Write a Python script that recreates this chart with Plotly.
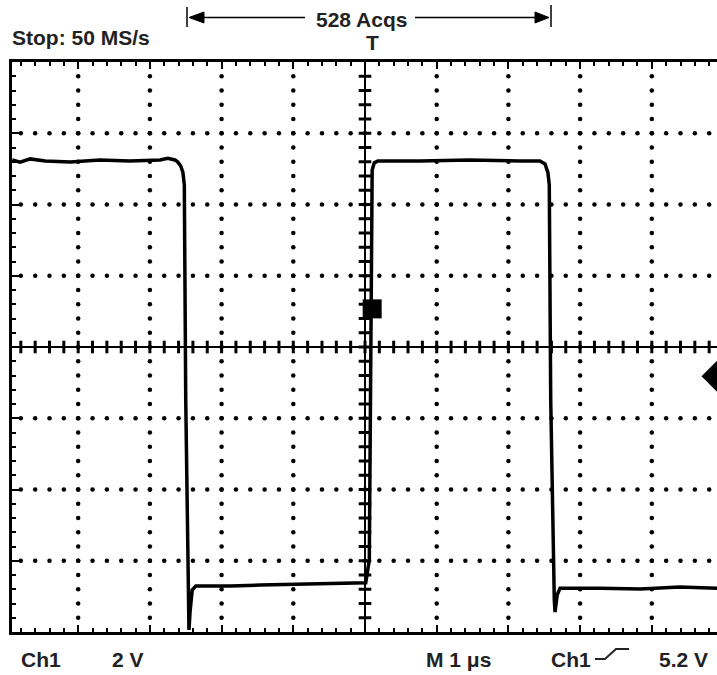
import numpy as np
import plotly.graph_objects as go

# ---- data (time in us, Ch1 in volts relative to screen centre) ----
time_us = [-4.92, -4.81, -4.67, -4.46, -4.11, -3.70, -3.28, -2.86, -2.75, -2.65, -2.61, -2.57,
           -2.54, -2.52, -2.50, -2.47, -2.455, -2.44, -2.41, -2.36, -1.88, -1.46, -0.91, -0.35,
           0.01, 0.06, 0.08, 0.10, 0.13, 0.18, 0.77, 1.46, 2.16, 2.44, 2.51, 2.55, 2.57, 2.59,
           2.64, 2.65, 2.68, 2.72, 3.28, 3.84, 4.39, 4.91]
ch1_volts = [5.25, 5.19, 5.28, 5.22, 5.19, 5.25, 5.22, 5.25, 5.30, 5.25, 5.19, 5.08,
             4.91, 4.55, -1.49, -7.10, -7.94, -7.44, -6.82, -6.71, -6.71, -6.68, -6.65, -6.62,
             -6.62, -5.98, 1.32, 4.97, 5.17, 5.22, 5.22, 5.25, 5.22, 5.22, 5.14, 4.91, 4.55, -1.49,
             -7.10, -7.44, -6.96, -6.77, -6.77, -6.79, -6.74, -6.77]
marker_t, marker_v = [0.10], [1.07]          # channel marker square
trig_t, trig_v = [4.91], [-0.82]             # trigger level diamond
volts_per_div = 2
x_range = [-4.923, 4.909]
y_range = [-8, 8]

W, H = 717, 675
L, R, T, B = 12, 0, 62, 43
PW, PH = W - L - R, H - T - B

def px(x):
    return (x - L) / PW

def py(y):
    return (H - B - y) / PH

fig = go.Figure()

# dotted graticule
gx, gy = [], []
for k in [-4, -3, -2, -1, 1, 2, 3, 4]:
    for v in np.arange(-7.6, 7.61, 0.4):
        gx.append(k); gy.append(v)
for v in [-6, -4, -2, 2, 4, 6]:
    for t in np.arange(-4.8, 4.81, 0.2):
        gx.append(round(t, 2)); gy.append(v)
fig.add_trace(go.Scatter(x=gx, y=gy, mode="markers",
                         marker=dict(size=4.5, color="black", symbol="circle"),
                         hoverinfo="skip", showlegend=False))

# centre cross ticks
ct = [round(t, 2) for t in np.arange(-4.8, 4.81, 0.2)]
fig.add_trace(go.Scatter(x=ct, y=[0] * len(ct), mode="markers",
                         marker=dict(size=9, symbol="line-ns", line=dict(width=3, color="black")),
                         hoverinfo="skip", showlegend=False))
cv = [round(v, 2) for v in np.arange(-7.6, 7.61, 0.4)]
fig.add_trace(go.Scatter(x=[0] * len(cv), y=cv, mode="markers",
                         marker=dict(size=9, symbol="line-ew", line=dict(width=3, color="black")),
                         hoverinfo="skip", showlegend=False))

# waveform
fig.add_trace(go.Scatter(x=time_us, y=ch1_volts, mode="lines",
                         line=dict(color="black", width=3.5), showlegend=False))
fig.add_trace(go.Scatter(x=marker_t, y=marker_v, mode="markers",
                         marker=dict(size=19, symbol="square", color="black"), showlegend=False))
fig.add_trace(go.Scatter(x=trig_t, y=trig_v, mode="markers",
                         marker=dict(size=24, symbol="diamond", color="black"), showlegend=False))

shapes = [
    dict(type="line", xref="x", yref="paper", x0=0, x1=0, y0=0, y1=1,
         line=dict(color="black", width=2)),
    dict(type="line", xref="paper", yref="y", x0=0, x1=1, y0=0, y1=0,
         line=dict(color="black", width=2)),
    # top acquisition arrow
    dict(type="line", xref="paper", yref="paper", x0=px(187), x1=px(187), y0=py(7), y1=py(27),
         line=dict(color="black", width=1.5)),
    dict(type="line", xref="paper", yref="paper", x0=px(203), x1=px(305), y0=py(17.5), y1=py(17.5),
         line=dict(color="black", width=1.5)),
    dict(type="path", xref="paper", yref="paper",
         path=f"M {px(189)},{py(17.5)} L {px(204)},{py(12)} L {px(204)},{py(23)} Z",
         fillcolor="black", line=dict(color="black", width=1)),
    dict(type="line", xref="paper", yref="paper", x0=px(415), x1=px(536), y0=py(17.5), y1=py(17.5),
         line=dict(color="black", width=1.5)),
    dict(type="path", xref="paper", yref="paper",
         path=f"M {px(549)},{py(17.5)} L {px(535)},{py(12)} L {px(535)},{py(23)} Z",
         fillcolor="black", line=dict(color="black", width=1)),
    dict(type="line", xref="paper", yref="paper", x0=px(551), x1=px(551), y0=py(5), y1=py(27),
         line=dict(color="black", width=1.5)),
    # trigger slope symbol
    dict(type="path", xref="paper", yref="paper",
         path=(f"M {px(595)},{py(659)} L {px(605)},{py(659)} L {px(616)},{py(649)} "
               f"L {px(629)},{py(649)}"),
         line=dict(color="#222", width=2)),
]

font = dict(family="Liberation Sans, Arial, sans-serif", size=21, color="#222")
def ann(text, x, y, xanchor="left"):
    return dict(text=f"<b>{text}</b>", xref="paper", yref="paper", x=px(x), y=py(y),
                xanchor=xanchor, yanchor="middle", showarrow=False, font=font)

annotations = [
    ann("Stop: 50 MS/s", 10, 37),
    ann("528 Acqs", 361, 20, "center"),
    ann("T", 372, 43, "center"),
    ann("Ch1", 19, 659),
    ann(f"{volts_per_div} V", 110, 659),
    ann("M 1 μs", 424, 659),
    ann("Ch1", 549, 659),
    ann("5.2 V", 657, 659),
]

fig.update_layout(
    width=W, height=H,
    margin=dict(l=L, r=R, t=T, b=B, pad=0),
    paper_bgcolor="white", plot_bgcolor="white",
    shapes=shapes, annotations=annotations,
    xaxis=dict(range=x_range, showgrid=False, zeroline=False, showticklabels=False,
               showline=True, linecolor="black", linewidth=2.5, mirror="ticks",
               ticks="inside", tick0=0, dtick=1, ticklen=7, tickwidth=2, tickcolor="black",
               minor=dict(ticks="inside", tick0=0, dtick=0.2, ticklen=4, tickwidth=2,
                          tickcolor="black", showgrid=False)),
    yaxis=dict(range=y_range, showgrid=False, zeroline=False, showticklabels=False,
               showline=True, linecolor="black", linewidth=2.5, mirror=False,
               ticks="inside", tick0=0, dtick=2, ticklen=7, tickwidth=2, tickcolor="black",
               minor=dict(ticks="inside", tick0=0, dtick=0.4, ticklen=4, tickwidth=2,
                          tickcolor="black", showgrid=False)),
)

fig.write_html("out.html")
